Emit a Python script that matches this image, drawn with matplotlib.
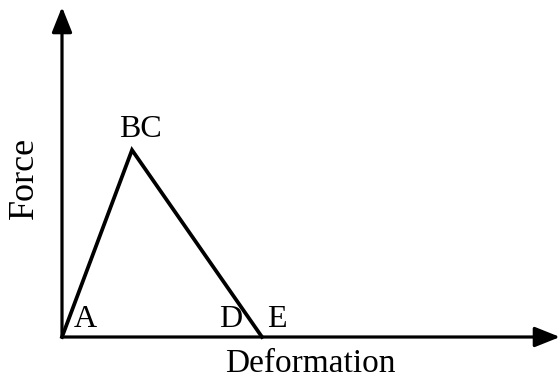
import matplotlib.pyplot as plt

# Force-deformation path (arbitrary units); B and C coincide, D and E coincide
deformation = [0.0, 0.35, 0.35, 1.0, 1.0]
force = [0.0, 1.0, 1.0, 0.0, 0.0]
point_labels = ["A", "B", "C", "D", "E"]

plt.rcParams['font.family'] = ['Liberation Serif', 'DejaVu Serif']

fig = plt.figure(figsize=(5.59, 3.81), dpi=100)
ax = fig.add_axes([62 / 559, 44 / 381, 497 / 559, 330 / 381])
ax.set_xlim(0, 2.485)
ax.set_ylim(0, 1.765)
for s in ax.spines.values():
    s.set_visible(False)
ax.set_xticks([])
ax.set_yticks([])

# axes drawn as arrows
arrow = dict(arrowstyle='-|>,head_length=0.7,head_width=0.28', lw=2.3,
             color='black', mutation_scale=22, shrinkA=0, shrinkB=0)
ax.annotate('', xy=(0, 1), xytext=(0, 0), xycoords='axes fraction', arrowprops=arrow)
ax.annotate('', xy=(1.002, 0), xytext=(0, 0), xycoords='axes fraction', arrowprops=arrow)

ax.plot(deformation, force, color='black', lw=2.7, solid_joinstyle='miter', clip_on=False)

# point labels
ax.annotate("A", (deformation[0], force[0]), xytext=(12, 3), textcoords='offset pixels',
            ha='left', va='bottom', fontsize=23)
ax.annotate("BC", (deformation[1], force[1]), xytext=(8, 6), textcoords='offset pixels',
            ha='center', va='bottom', fontsize=23)
ax.annotate("D", (deformation[3], force[3]), xytext=(-20, 3), textcoords='offset pixels',
            ha='right', va='bottom', fontsize=23)
ax.annotate("E", (deformation[4], force[4]), xytext=(5, 3), textcoords='offset pixels',
            ha='left', va='bottom', fontsize=23)

fig.text(310 / 559, 1 - 364 / 381, "Deformation", ha='center', va='center', fontsize=24)
fig.text(24 / 559, 1 - 178 / 381, "Force", ha='center', va='center', rotation=90, fontsize=26)

fig.savefig("out.png", dpi=100)
